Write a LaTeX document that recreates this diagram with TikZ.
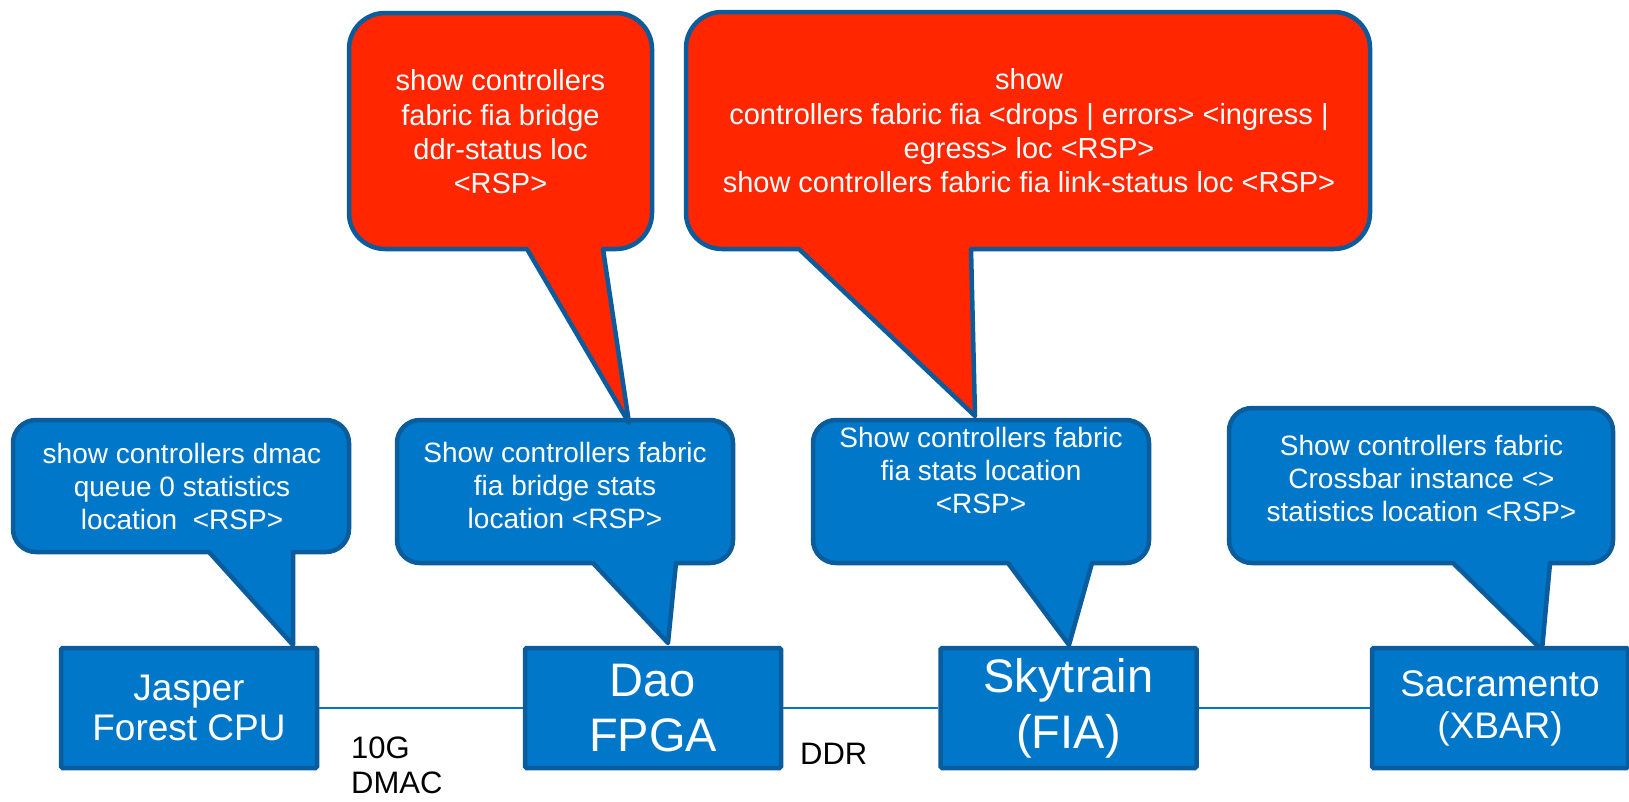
\documentclass[tikz,border=0pt]{standalone}
\usepackage{fontspec}
\setmainfont{Liberation Sans}

\definecolor{boxblue}{HTML}{0077C8}
\definecolor{edgeblue}{HTML}{0B5C9C}
\definecolor{alertred}{HTML}{FF2600}

% Speech bubble: rounded body with a pointed tail leaving the bottom edge.
% #1 style, #2 left, #3 right, #4 top, #5 bottom, #6 corner radius,
% #7 tail start x, #8 tail end x, #9 tail tip (x,y)
\newcommand{\speechbubble}[9]{%
  \draw[#1] (#7,#5) -- #9 -- (#8,#5)
    -- ({#3-#6},#5) arc[start angle=90,end angle=0,radius=#6]
    -- (#3,{#4+#6}) arc[start angle=0,end angle=-90,radius=#6]
    -- ({#2+#6},#4) arc[start angle=-90,end angle=-180,radius=#6]
    -- (#2,{#5-#6}) arc[start angle=180,end angle=90,radius=#6]
    -- cycle;}

\tikzset{
  bubbleblue/.style={fill=boxblue, draw=edgeblue, line width=4.5pt, line join=round},
  bubblered/.style={fill=alertred, draw=edgeblue, line width=4.5pt, line join=round},
  unit/.style={rectangle, rounded corners=1.5pt, fill=boxblue, draw=edgeblue,
    line width=4.5pt, minimum width=256pt, minimum height=120pt,
    inner sep=0pt, text=white, align=center},
  note/.style={text=white, align=center, inner sep=0pt,
    font=\fontsize{28pt}{33pt}\selectfont},
  rednote/.style={text=white, align=center, inner sep=0pt,
    font=\fontsize{29pt}{34.3pt}\selectfont},
  link/.style={draw=boxblue, line width=2pt},
  tag/.style={text=black, align=left, inner sep=0pt, anchor=north west,
    font=\fontsize{31pt}{35pt}\selectfont}
}

\begin{document}
\begin{tikzpicture}[x=1pt, y=1pt, yscale=-1]
  \useasboundingbox (0,0) rectangle (1629,801);

  % blue command bubbles above each device
  \speechbubble{bubbleblue}{13}{349}{420}{552}{23}{209}{293}{(293,645)}
  \speechbubble{bubbleblue}{397}{733}{420}{563}{23}{593}{676}{(668,643)}
  \speechbubble{bubbleblue}{813}{1149}{420}{563}{23}{1008}{1092}{(1069,645)}
  \speechbubble{bubbleblue}{1229}{1613}{408}{563}{23}{1453}{1550}{(1542,650)}

  % red command bubbles pointing at the blue ones
  \speechbubble{bubblered}{349}{652}{13}{249}{36}{527}{603}{(629,423)}
  \speechbubble{bubblered}{686}{1370}{12}{249}{36}{799}{971}{(975,416)}

  % bubble texts
  \node[note] (cmdcpu) at (182,486.5) {show controllers dmac\\queue 0 statistics\\location\ \ <RSP>};
  \node[note] (cmdbridge) at (565,485) {Show controllers fabric\\fia bridge stats\\location <RSP>};
  \node[note] (cmdfia) at (981,470) {Show controllers fabric\\fia stats location\\<RSP>};
  \node[note] (cmdxbar) at (1421.5,478.5) {Show controllers fabric\\Crossbar instance <>\\statistics location <RSP>};
  \node[rednote] (cmdddr) at (500.5,132) {show controllers\\fabric fia bridge\\ddr-status loc\\<RSP>};
  \node[rednote] (cmdlink) at (1029,131) {show\\controllers fabric fia <drops | errors> <ingress |\\egress> loc <RSP>\\show controllers fabric fia link-status loc <RSP>};

  % devices
  \node[unit, font=\fontsize{37pt}{40pt}\selectfont] (jasper) at (189,708) {Jasper\\Forest CPU};
  \node[unit, font=\fontsize{47pt}{55pt}\selectfont] (dao) at (653,708) {Dao\\FPGA};
  \node[unit, font=\fontsize{47pt}{56pt}\selectfont] (sky) at (1068.5,708) {Skytrain\\(FIA)};
  \node[unit, font=\fontsize{37pt}{42pt}\selectfont] (sac) at (1500,708) {Sacramento\\(XBAR)};

  % links
  \draw[link] (jasper) -- (dao);
  \draw[link] (dao) -- (sky);
  \draw[link] (sky) -- (sac);

  % link labels
  \node[tag] (dmac) at (351,737) {10G\\DMAC};
  \node[tag] (ddr) at (800,743) {DDR};
\end{tikzpicture}
\end{document}
